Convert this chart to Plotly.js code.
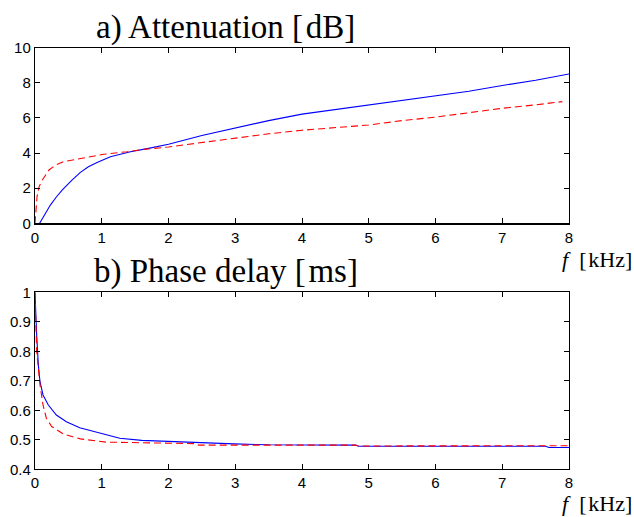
<!DOCTYPE html>
<html>
<head>
<meta charset="utf-8">
<script src="https://cdn.plot.ly/plotly-3.0.1.min.js"></script>
<style>html,body{margin:0;padding:0;background:#fff;}#chart{width:634px;height:517px;}</style>
</head>
<body>
<div id="chart"></div>
<script>
// a) Attenuation [dB]
const attBlueX = [0.07, 0.15, 0.23, 0.32, 0.41, 0.55, 0.68, 0.8, 0.93, 1.13, 1.43, 1.7, 2.0, 2.5, 3.0, 3.5, 4.0, 4.5, 5.0, 5.5, 6.0, 6.5, 7.0, 7.5, 8.0];
const attBlueY = [0, 0.5, 1.04, 1.5, 1.9, 2.45, 2.9, 3.22, 3.47, 3.79, 4.08, 4.27, 4.5, 5.0, 5.42, 5.85, 6.22, 6.48, 6.72, 6.98, 7.25, 7.52, 7.85, 8.15, 8.5];
const attRedX = [0, 0.01, 0.03, 0.06, 0.11, 0.21, 0.3, 0.43, 0.73, 1.03, 1.38, 1.63, 2.0, 2.5, 3.0, 3.5, 4.0, 4.5, 5.0, 5.5, 6.0, 6.5, 7.0, 7.5, 7.9];
const attRedY = [0, 0.6, 1.5, 2.08, 2.47, 3.04, 3.3, 3.51, 3.74, 3.93, 4.08, 4.21, 4.35, 4.6, 4.85, 5.1, 5.3, 5.45, 5.6, 5.85, 6.05, 6.3, 6.55, 6.75, 6.93];
// b) Phase delay [ms]
const pdBlueX = [0, 0.01, 0.025, 0.05, 0.075, 0.12, 0.2, 0.32, 0.47, 0.67, 0.92, 1.27, 1.6, 1.98, 2.5, 2.98, 3.5, 4.8, 4.85, 7.65, 7.7, 8.0];
const pdBlueY = [1.0, 0.93, 0.855, 0.754, 0.697, 0.652, 0.618, 0.584, 0.561, 0.541, 0.525, 0.505, 0.498, 0.494, 0.49, 0.486, 0.483, 0.482, 0.478, 0.478, 0.474, 0.474];
const pdRedX = [0, 0.025, 0.075, 0.12, 0.17, 0.25, 0.43, 0.68, 1.07, 1.48, 1.98, 2.4, 2.45, 4.8, 4.85, 7.65, 7.7, 8.0];
const pdRedY = [1.0, 0.8, 0.686, 0.618, 0.573, 0.545, 0.519, 0.503, 0.492, 0.49, 0.488, 0.487, 0.482, 0.482, 0.479, 0.479, 0.48, 0.48];

const xTicks = [0, 1, 2, 3, 4, 5, 6, 7, 8];
const attTicks = [0, 2, 4, 6, 8, 10];
const pdTicks = [0.4, 0.5, 0.6, 0.7, 0.8, 0.9, 1];
const pdTickText = ['0.4', '0.5', '0.6', '0.7', '0.8', '0.9', '1'];

const blue = '#0000ff', red = '#ff0000';
const traces = [
  {x: attBlueX, y: attBlueY, xaxis: 'x', yaxis: 'y', mode: 'lines', line: {color: blue, width: 1.1}},
  {x: attRedX, y: attRedY, xaxis: 'x', yaxis: 'y', mode: 'lines', line: {color: red, width: 1.1, dash: '7px,4px'}},
  {x: pdBlueX, y: pdBlueY, xaxis: 'x2', yaxis: 'y2', mode: 'lines', line: {color: blue, width: 1.1}},
  {x: pdRedX, y: pdRedY, xaxis: 'x2', yaxis: 'y2', mode: 'lines', line: {color: red, width: 1.1, dash: '7px,4px'}}
];

const tickFont = {family: 'Liberation Sans, Arial, sans-serif', size: 15, color: '#000'};
const axBase = {
  showline: true, linecolor: '#000', linewidth: 1.2, mirror: 'ticks',
  ticks: 'inside', ticklen: 5, tickcolor: '#000', tickwidth: 1,
  showgrid: false, zeroline: false, tickfont: tickFont, fixedrange: true
};
const serif = 'Liberation Serif, Times New Roman, serif';

const layout = {
  width: 634, height: 517,
  margin: {l: 35, r: 65, t: 0, b: 0},
  paper_bgcolor: '#fff', plot_bgcolor: '#fff',
  showlegend: false,
  xaxis: Object.assign({}, axBase, {domain: [0, 1], range: [0, 8], tickvals: xTicks, anchor: 'y'}),
  yaxis: Object.assign({}, axBase, {domain: [0.568, 0.9077], range: [0, 10], tickvals: attTicks, anchor: 'x'}),
  xaxis2: Object.assign({}, axBase, {domain: [0, 1], range: [0, 8], tickvals: xTicks, anchor: 'y2'}),
  yaxis2: Object.assign({}, axBase, {domain: [0.0923, 0.4346], range: [0.4, 1], tickvals: pdTicks, ticktext: pdTickText, anchor: 'x2'}),
  annotations: [
    {text: 'a) Attenuation [\u200AdB]', xref: 'paper', yref: 'paper', x: 0.357, y: 0.946, xanchor: 'center', yanchor: 'middle', showarrow: false, font: {family: serif, size: 33, color: '#000'}},
    {text: 'b) Phase delay [\u200Ams]', xref: 'paper', yref: 'paper', x: 0.357, y: 0.474, xanchor: 'center', yanchor: 'middle', showarrow: false, font: {family: serif, size: 33, color: '#000'}},
    {text: '<i>f</i>  [\u200AkHz]', xref: 'paper', yref: 'paper', x: 1.053, y: 0.499, xanchor: 'center', yanchor: 'middle', showarrow: false, font: {family: serif, size: 22, color: '#000'}},
    {text: '<i>f</i>  [\u200AkHz]', xref: 'paper', yref: 'paper', x: 1.053, y: 0.027, xanchor: 'center', yanchor: 'middle', showarrow: false, font: {family: serif, size: 22, color: '#000'}}
  ]
};

Plotly.newPlot('chart', traces, layout, {staticPlot: true, displayModeBar: false});
</script>
</body>
</html>
